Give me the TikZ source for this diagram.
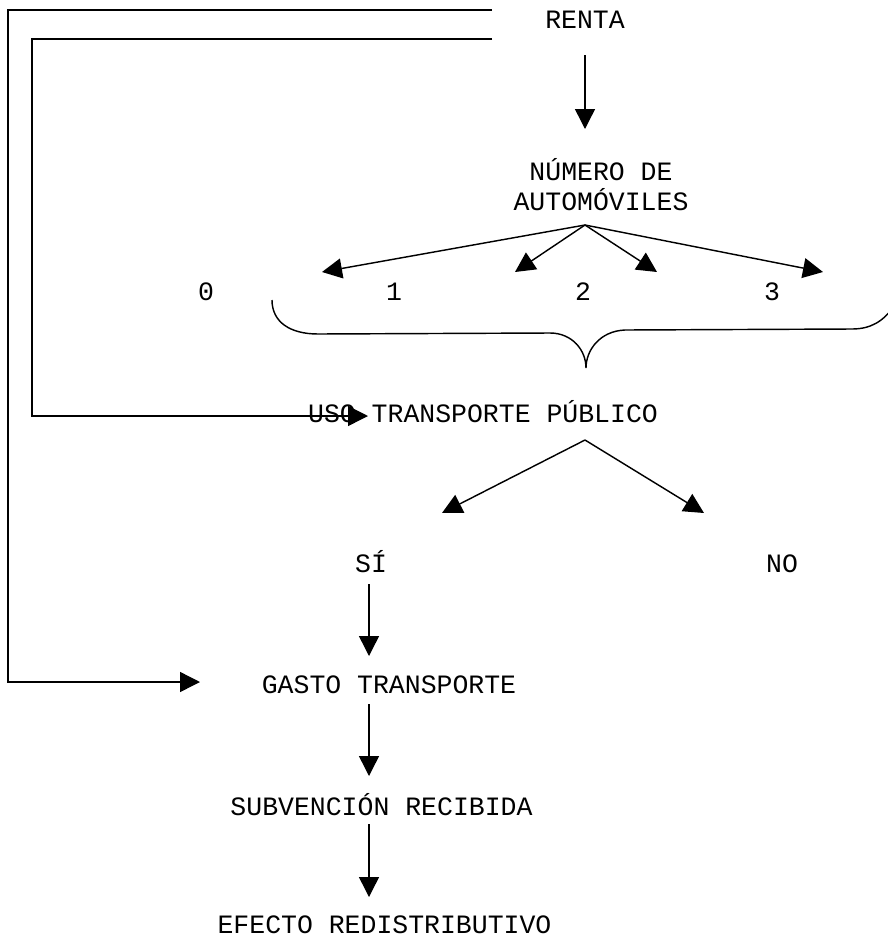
\documentclass[tikz,border=0pt]{standalone}
\usepackage{fontspec}
\newfontfamily\cour{Liberation Mono}
\usetikzlibrary{arrows.meta}
\tikzset{
  lbl/.style={font=\cour\fontsize{12}{14}\selectfont, inner sep=0pt, anchor=base},
  ln/.style={line width=0.65pt, line join=miter},
  arr/.style={ln, -{Triangle[length=9.06pt,width=9.06pt]}},
}
\begin{document}
\begin{tikzpicture}[x=0.453pt,y=-0.453pt]
\useasboundingbox (0,0) rectangle (888,937);
\fill[white] (0,0) rectangle (888,937);
\begin{scope}
\clip (0,0) rectangle (888,937);

% text nodes
\node[lbl] (renta) at (585,28) {RENTA};
\node[lbl] (num1) at (601,180) {NÚMERO DE};
\node[lbl] (num2) at (601,210) {AUTOMÓVILES};
\node[lbl] (c0) at (206,300) {0};
\node[lbl] (c1) at (394,300) {1};
\node[lbl] (c2) at (583,300) {2};
\node[lbl] (c3) at (772,300) {3};
\node[lbl] (uso) at (483,422) {USO TRANSPORTE PÚBLICO};
\node[lbl] (si) at (371,572) {SÍ};
\node[lbl] (no) at (782,572) {NO};
\node[lbl] (gasto) at (389,693) {GASTO TRANSPORTE};
\node[lbl] (subv) at (381.5,815) {SUBVENCIÓN RECIBIDA};
\node[lbl] (efecto) at (384.5,933) {EFECTO REDISTRIBUTIVO};

% coordinates for connector ends
\coordinate (rentaS) at (585,55);
\coordinate (numN) at (585,129);
\coordinate (fanO) at (585,225);
\coordinate (t0) at (322,272);
\coordinate (t1) at (515,272);
\coordinate (t2) at (657,272);
\coordinate (t3) at (823,272);
\coordinate (usoO) at (585,440);
\coordinate (tsi) at (442,513);
\coordinate (tno) at (704,513);
\coordinate (siS) at (369,584);
\coordinate (gastoN) at (369,656);
\coordinate (gastoS) at (369,704);
\coordinate (subvN) at (369,776);
\coordinate (subvS) at (369,824);
\coordinate (efectoN) at (369,897);
\coordinate (outA) at (492,10);
\coordinate (outB) at (8,10);
\coordinate (outC) at (8,682);
\coordinate (gastoW) at (200,682);
\coordinate (inA) at (492,39);
\coordinate (inB) at (32,39);
\coordinate (inC) at (32,416);
\coordinate (usoW) at (368,416);

% connectors
\draw[arr] (rentaS) -- (numN);
\draw[arr] (fanO) -- (t0);
\draw[arr] (fanO) -- (t1);
\draw[arr] (fanO) -- (t2);
\draw[arr] (fanO) -- (t3);
\draw[arr] (usoO) -- (tsi);
\draw[arr] (usoO) -- (tno);
\draw[arr] (siS) -- (gastoN);
\draw[arr] (gastoS) -- (subvN);
\draw[arr] (subvS) -- (efectoN);
\draw[arr] (outA) -- (outB) -- (outC) -- (gastoW);
\draw[arr] (inA) -- (inB) -- (inC) -- (usoW);

% brace
\draw[ln] (272,300) .. controls (272,322) and (290,334) .. (318,334)
  -- (550,333) .. controls (572,333) and (586,350) .. (586,368)
  .. controls (586,350) and (600,331) .. (625,330)
  -- (852,329) .. controls (870,329) and (883,322) .. (894,306);
\end{scope}
\end{tikzpicture}
\end{document}
